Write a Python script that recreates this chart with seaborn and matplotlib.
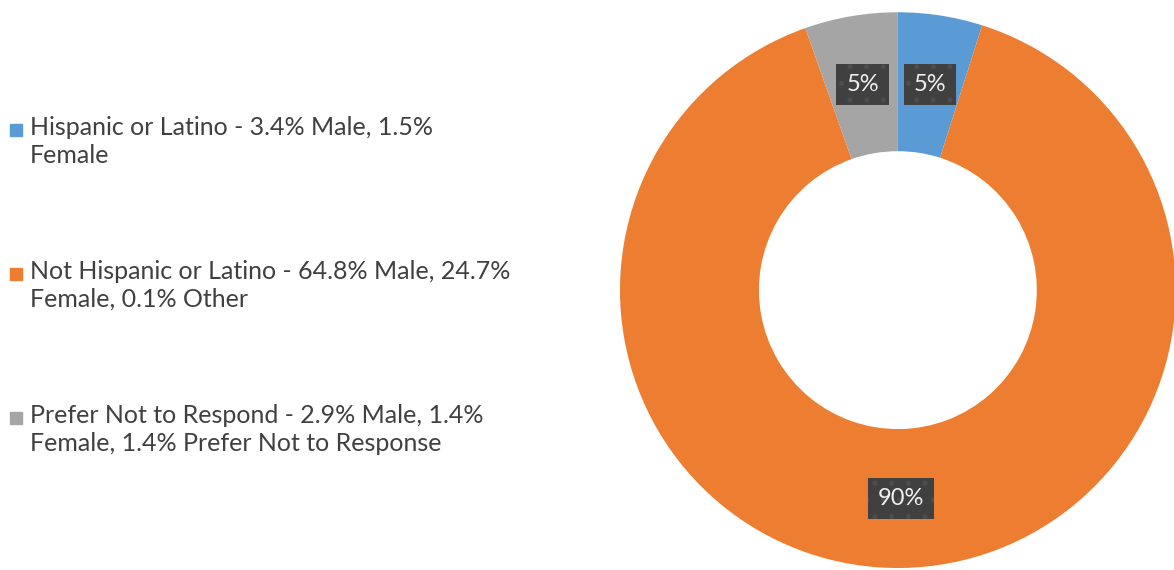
import matplotlib
matplotlib.use("Agg")
import matplotlib.pyplot as plt
from matplotlib.patches import Rectangle
import seaborn as sns

# Ethnicity breakdown (percent of respondents)
categories = [
    "Hispanic or Latino - 3.4% Male, 1.5%\nFemale",
    "Not Hispanic or Latino - 64.8% Male, 24.7%\nFemale, 0.1% Other",
    "Prefer Not to Respond - 2.9% Male, 1.4%\nFemale, 1.4% Prefer Not to Response",
]
shares = [4.9, 89.6, 5.4]
colors = ["#5B9BD5", "#ED7D31", "#A5A5A5"]

sns.set_theme(style="white")
plt.rcParams["font.family"] = ["Lato", "DejaVu Sans"]
plt.rcParams["hatch.linewidth"] = 1.2

fig = plt.figure(figsize=(11.74, 5.70), dpi=100)

# Donut chart
ax = fig.add_axes([0.528, 0.0035, 0.4736, 0.975])
wedges, _, autotexts = ax.pie(
    shares,
    colors=colors,
    startangle=90,
    counterclock=False,
    radius=1.0,
    wedgeprops=dict(width=0.5, edgecolor="none"),
    autopct=lambda p: f"{p:.0f}%",
    pctdistance=0.75,
)
for t in autotexts:
    t.set_color("#f0f0f0")
    t.set_fontsize(17)
    t.set_zorder(5)
    t.set_bbox(dict(boxstyle="square,pad=0.42", fc="#404040", ec="#4e4e4e",
                    lw=0, hatch="."))
ax.set_xlim(-1, 1)
ax.set_ylim(-1, 1)
ax.set_aspect("equal")
ax.axis("off")

# Legend drawn at the left
W, H = 1174, 570
first_line_y = [130, 274, 418]
for label, color, y in zip(categories, colors, first_line_y):
    fig.patches.append(Rectangle((10 / W, 1 - (y + 6) / H), 12 / W, 12 / H,
                                 transform=fig.transFigure, color=color))
    fig.text(30 / W, 1 - (y - 14) / H, label, ha="left", va="top",
             fontsize=18, color="#404040", linespacing=1.25)

fig.savefig("out.png", dpi=100)
